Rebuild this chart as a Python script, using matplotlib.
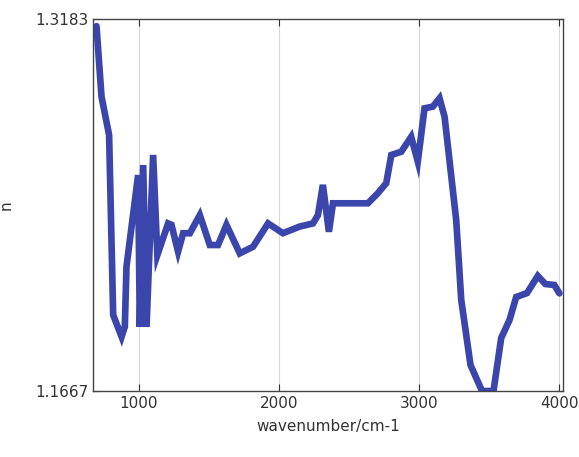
import matplotlib
matplotlib.use("Agg")
import matplotlib.pyplot as plt

wavenumber = [700, 736, 790, 819, 879, 902, 914, 997, 1009, 1033, 1057, 1104,
              1134, 1211, 1235, 1282, 1318, 1366, 1437, 1508, 1567, 1627, 1722,
              1817, 1924, 2030, 2149, 2244, 2280, 2315, 2358, 2387, 2636, 2707,
              2767, 2803, 2874, 2945, 2992, 3040, 3099, 3147, 3183, 3266, 3302,
              3368, 3450, 3532, 3587, 3646, 3694, 3771, 3848, 3902, 3966, 4002]
n_values = [1.3154, 1.2866, 1.2710, 1.1977, 1.1888, 1.1929, 1.2174, 1.2547,
            1.1928, 1.2588, 1.1928, 1.2629, 1.2221, 1.2350, 1.2344, 1.2235,
            1.2310, 1.2310, 1.2384, 1.2262, 1.2262, 1.2344, 1.2228, 1.2255,
            1.2350, 1.2310, 1.2337, 1.2350, 1.2384, 1.2507, 1.2316, 1.2432,
            1.2432, 1.2473, 1.2514, 1.2629, 1.2642, 1.2703, 1.2602, 1.2819,
            1.2826, 1.2860, 1.2785, 1.2364, 1.2038, 1.1773, 1.1667, 1.1667,
            1.1883, 1.1956, 1.2050, 1.2066, 1.2136, 1.2103, 1.2099, 1.2065]
x_ticks = [1000, 2000, 3000, 4000]
y_ticks = [1.1667, 1.3183]

fig = plt.figure(figsize=(5.79, 4.57), dpi=100)
ax = fig.add_axes([0.1606, 0.1444, 0.8118, 0.814])

ax.plot(wavenumber, n_values, color="#3a46ab", linewidth=4.8,
        solid_joinstyle="miter", solid_capstyle="round")

ax.set_xlim(675, 4028)
ax.set_ylim(1.1667, 1.3183)
ax.set_xticks(x_ticks)
ax.set_yticks(y_ticks)
ax.set_yticklabels(["1.1667", "1.3183"])
ax.grid(axis="x", color="#d8d8d8", linewidth=0.8)
ax.tick_params(direction="in", top=True, right=True, labelsize=11,
               colors="#333333", length=5)
for s in ax.spines.values():
    s.set_color("#444444")
    s.set_linewidth(1.0)

ax.set_xlabel("wavenumber/cm-1", fontsize=11, color="#333333", labelpad=6)
ax.set_ylabel("n", fontsize=11, color="#333333")
ax.yaxis.set_label_coords(-0.168, 0.5)

fig.savefig("out.png", dpi=100)
